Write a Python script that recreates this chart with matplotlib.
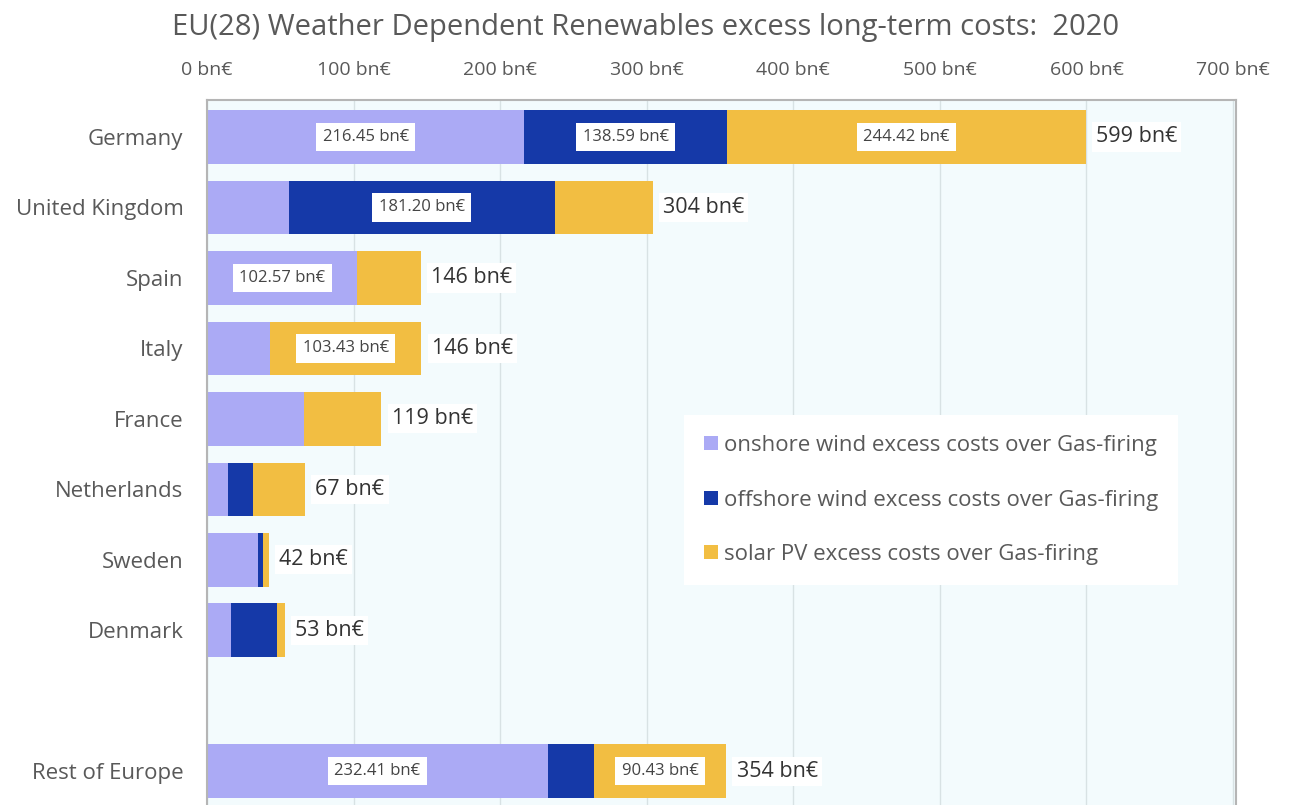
import matplotlib
matplotlib.use("Agg")
import matplotlib.pyplot as plt
import numpy as np

# data (bn€)
countries = ["Germany", "United Kingdom", "Spain", "Italy", "France",
             "Netherlands", "Sweden", "Denmark", "", "Rest of Europe"]
onshore = [216.45, 56.0, 102.57, 42.9, 66.0, 14.3, 34.8, 16.4, 0, 232.41]
offshore = [138.59, 181.20, 0, 0, 0, 17.0, 3.4, 31.3, 0, 31.4]
solar = [244.42, 66.8, 43.4, 103.43, 53.0, 35.7, 3.8, 5.3, 0, 90.43]
series_names = ["onshore wind excess costs over Gas-firing",
                "offshore wind excess costs over Gas-firing",
                "solar PV excess costs over Gas-firing"]
x_ticks = [0, 100, 200, 300, 400, 500, 600, 700]

colors = ["#abaaf5", "#1539a8", "#f2be42"]
grey = "#595959"
plt.rcParams["font.family"] = ["Open Sans", "DejaVu Sans"]

fig = plt.figure(figsize=(12.91, 8.05), dpi=100)
# plot area runs off the bottom of the picture, as in the reference
ax = fig.add_axes([207 / 1291, -19 / 805, 1029 / 1291, 724 / 805])
ax.set_facecolor("#f3fbfd")

y = np.arange(len(countries))
left = np.zeros(len(countries))
for vals, col, name in zip([onshore, offshore, solar], colors, series_names):
    vals = np.array(vals, dtype=float)
    ax.barh(y, vals, left=left, height=0.76, color=col, label=name, zorder=2)
    for i, v in enumerate(vals):
        if v >= 90:
            ax.text(left[i] + v / 2, y[i], f"{v:.2f} bn€", ha="center", va="center",
                    fontsize=12, color="#444444", zorder=4,
                    bbox=dict(facecolor="white", edgecolor="none", pad=4.5))
    left += vals

totals = left
for i, t in enumerate(totals):
    if t > 0:
        ax.text(t + 7, y[i], f"{t:.0f} bn€", ha="left", va="center",
                fontsize=15.5, color="#333333", zorder=4,
                bbox=dict(facecolor="white", edgecolor="none", pad=3))

ax.set_xlim(0, 702)
ax.set_ylim(9.75, -0.525)
ax.set_yticks(y)
ax.set_yticklabels(countries, fontsize=16, color=grey)
ax.set_xticks(x_ticks)
ax.set_xticklabels([f"{v} bn€" for v in x_ticks], fontsize=14, color=grey)
ax.xaxis.tick_top()
ax.tick_params(axis="both", length=0)
ax.tick_params(axis="x", pad=15)
ax.tick_params(axis="y", pad=17)
ax.grid(axis="x", color="#d8e2e4", linewidth=1, zorder=0)
ax.set_axisbelow(True)
for s in ax.spines.values():
    s.set_color("#b5b5b5")
    s.set_linewidth(1.5)

leg = ax.legend(loc="upper left", bbox_to_anchor=(0.453, 0.58), fontsize=16,
                frameon=True, fancybox=False, edgecolor="none", facecolor="white",
                framealpha=1, handlelength=0.6, handleheight=0.6, handletextpad=0.3,
                labelspacing=1.5, borderpad=0.9)
for txt in leg.get_texts():
    txt.set_color(grey)
leg.set_zorder(5)

fig.text(0.5, 0.966, "EU(28) Weather Dependent Renewables excess long-term costs:  2020",
         ha="center", va="center", fontsize=21, color=grey)

fig.savefig("out.png", dpi=100)
